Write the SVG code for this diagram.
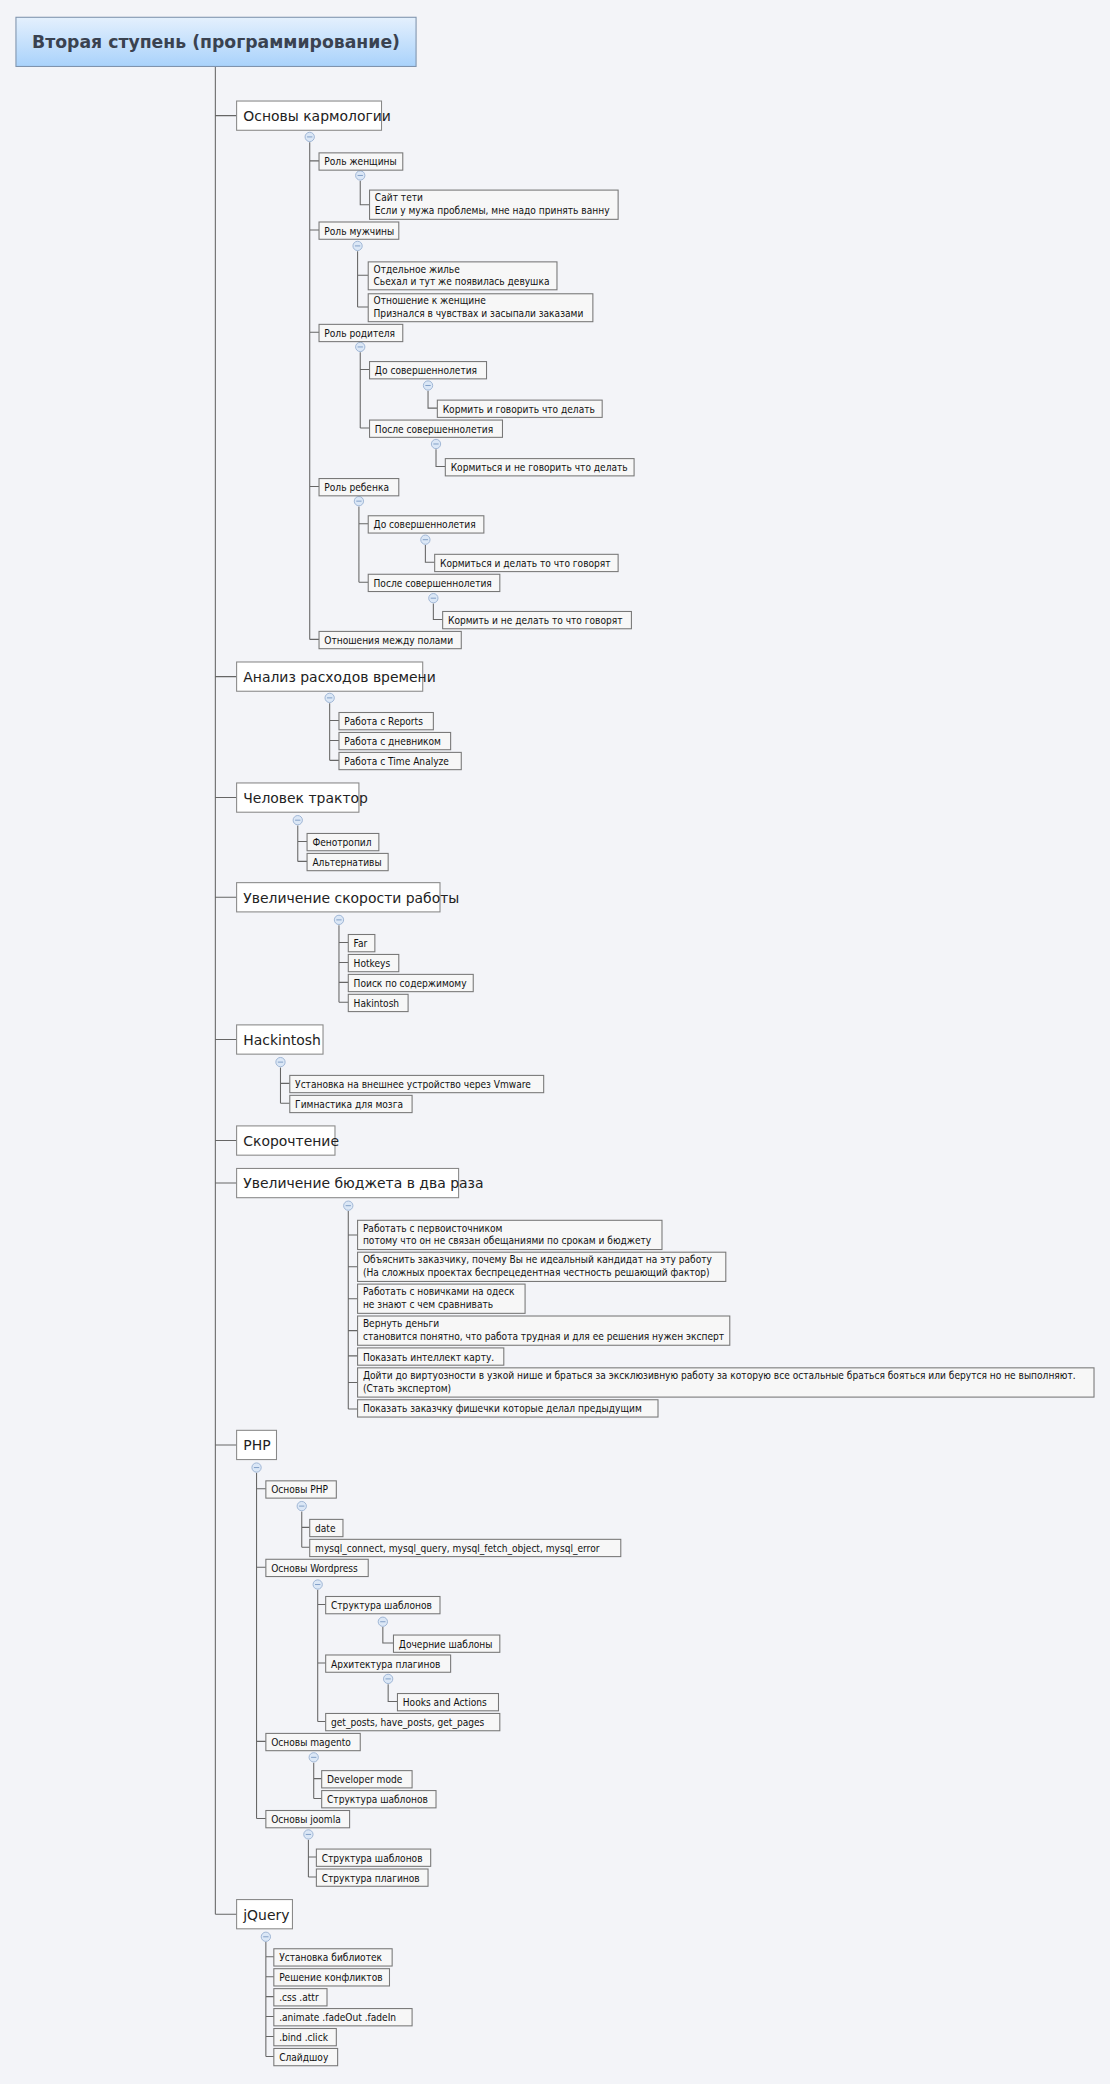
<svg xmlns="http://www.w3.org/2000/svg" width="1110" height="2084" viewBox="0 0 1110 2084">
<defs>
<linearGradient id="rg" x1="0" y1="0" x2="0" y2="1"><stop offset="0" stop-color="#e4f0fd"/><stop offset="1" stop-color="#a9d2fb"/></linearGradient>
<style>
.s rect{fill:#f7f7f7;stroke:#777;stroke-width:0.8}
.s text{font-family:"DejaVu Sans Condensed","DejaVu Sans",sans-serif;font-size:7.6px;fill:#111}
.m rect{fill:#fff;stroke:#888;stroke-width:0.8}
.m text{font-family:"DejaVu Sans","Liberation Sans",sans-serif;font-size:10.5px;fill:#222}
.c{fill:none;stroke:#666;stroke-width:0.8}
.o circle{fill:#dbe7f6;stroke:#9bb3d3;stroke-width:0.7}
.o path{stroke:#7d9bc4;stroke-width:0.7}
</style>
</defs>
<rect width="1110" height="2084" fill="#f3f4f8"/>
<g transform="scale(1.3293)">
<g id="connectors" class="c">
<path d="M162,50V1440M162,87H178M162,509H178M162,600H178M162,675H178M162,782H178M162,858H178M162,890H178M162,1087H178M162,1440H178"/>
<path d="M233,107V481M233,121H240M233,173H240M233,250H240M233,366H240M233,481H240"/>
<path d="M271,136V154H278"/>
<path d="M269,189V231M269,207H277M269,231H277"/>
<path d="M271,265V322M271,278H278M271,322H278M322,294V307H329M328,338V351H335"/>
<path d="M270,381V438M270,394H277M270,438H277M320,410V423H327M326,454V466H333"/>
<path d="M248,529V572M248,542H255M248,557H255M248,572H255"/>
<path d="M224,621V648M224,633H231M224,648H231"/>
<path d="M255,696V754M255,709H262M255,724H262M255,739H262M255,754H262"/>
<path d="M211,803V830M211,815H218M211,830H218"/>
<path d="M262,911V1060M262,929H269M262,953H269M262,977H269M262,1001H269M262,1020H269M262,1040H269M262,1060H269"/>
<path d="M193,1108V1368M193,1120H200M193,1179H200M193,1310H200M193,1368H200"/>
<path d="M227,1137V1164M227,1149H233M227,1164H233"/>
<path d="M239,1196V1295M239,1207H245M239,1251H245M239,1295H245M288,1224V1236H296M292,1267V1280H299"/>
<path d="M236,1326V1353M236,1338H242M236,1353H242"/>
<path d="M232,1384V1412M232,1397H238M232,1412H238"/>
<path d="M200,1461V1547M200,1472H206M200,1487H206M200,1502H206M200,1517H206M200,1532H206M200,1547H206"/>
</g>
<g class="o">
<g><circle cx="233" cy="103" r="3.5"/><path d="M231,103H235"/></g>
<g><circle cx="271" cy="132" r="3.5"/><path d="M269,132H273"/></g>
<g><circle cx="269" cy="185" r="3.5"/><path d="M267,185H271"/></g>
<g><circle cx="271" cy="261" r="3.5"/><path d="M269,261H273"/></g>
<g><circle cx="322" cy="290" r="3.5"/><path d="M320,290H324"/></g>
<g><circle cx="328" cy="334" r="3.5"/><path d="M326,334H330"/></g>
<g><circle cx="270" cy="377" r="3.5"/><path d="M268,377H272"/></g>
<g><circle cx="320" cy="406" r="3.5"/><path d="M318,406H322"/></g>
<g><circle cx="326" cy="450" r="3.5"/><path d="M324,450H328"/></g>
<g><circle cx="248" cy="525" r="3.5"/><path d="M246,525H250"/></g>
<g><circle cx="224" cy="617" r="3.5"/><path d="M222,617H226"/></g>
<g><circle cx="255" cy="692" r="3.5"/><path d="M253,692H257"/></g>
<g><circle cx="211" cy="799" r="3.5"/><path d="M209,799H213"/></g>
<g><circle cx="262" cy="907" r="3.5"/><path d="M260,907H264"/></g>
<g><circle cx="193" cy="1104" r="3.5"/><path d="M191,1104H195"/></g>
<g><circle cx="227" cy="1133" r="3.5"/><path d="M225,1133H229"/></g>
<g><circle cx="239" cy="1192" r="3.5"/><path d="M237,1192H241"/></g>
<g><circle cx="288" cy="1220" r="3.5"/><path d="M286,1220H290"/></g>
<g><circle cx="292" cy="1263" r="3.5"/><path d="M290,1263H294"/></g>
<g><circle cx="236" cy="1322" r="3.5"/><path d="M234,1322H238"/></g>
<g><circle cx="232" cy="1380" r="3.5"/><path d="M230,1380H234"/></g>
<g><circle cx="200" cy="1457" r="3.5"/><path d="M198,1457H202"/></g>
</g>
<g id="root"><rect x="12" y="13" width="301" height="37" fill="url(#rg)" stroke="#7f93ad" stroke-width="0.8"/><text x="162.5" y="36" text-anchor="middle" font-family="DejaVu Sans,sans-serif" font-weight="bold" font-size="13" fill="#3a4250">Вторая ступень (программирование)</text></g>
<g class="m">
<g id="n1"><rect x="178" y="76" width="109" height="22"/><text x="183" y="91">Основы кармологии</text></g>
<g id="n2"><rect x="178" y="498" width="140" height="22"/><text x="183" y="513">Анализ расходов времени</text></g>
<g id="n3"><rect x="178" y="589" width="92" height="22"/><text x="183" y="604">Человек трактор</text></g>
<g id="n4"><rect x="178" y="664" width="153" height="22"/><text x="183" y="679">Увеличение скорости работы</text></g>
<g id="n5"><rect x="178" y="771" width="65" height="22"/><text x="183" y="786">Hackintosh</text></g>
<g id="n6"><rect x="178" y="847" width="74" height="22"/><text x="183" y="862">Скорочтение</text></g>
<g id="n7"><rect x="178" y="879" width="167" height="22"/><text x="183" y="894">Увеличение бюджета в два раза</text></g>
<g id="n8"><rect x="178" y="1076" width="30" height="22"/><text x="183" y="1091">PHP</text></g>
<g id="n9"><rect x="178" y="1429" width="42" height="22"/><text x="183" y="1444">jQuery</text></g>
</g>
<g class="s">
<g id="a1"><rect x="240" y="115" width="63" height="13"/><text x="244" y="124.5">Роль женщины</text></g>
<g id="a11"><rect x="278" y="143" width="187" height="22"/><text x="282" y="151.5">Сайт тети</text><text x="282" y="161">Если у мужа проблемы, мне надо принять ванну</text></g>
<g id="a2"><rect x="240" y="167" width="60" height="13"/><text x="244" y="176.5">Роль мужчины</text></g>
<g id="a21"><rect x="277" y="197" width="142" height="21"/><text x="281" y="205">Отдельное жилье</text><text x="281" y="214.5">Сьехал и тут же появилась девушка</text></g>
<g id="a22"><rect x="277" y="221" width="169" height="21"/><text x="281" y="229">Отношение к женщине</text><text x="281" y="238.5">Признался в чувствах и засыпали заказами</text></g>
<g id="a3"><rect x="240" y="244" width="63" height="13"/><text x="244" y="253.5">Роль родителя</text></g>
<g id="a31"><rect x="278" y="272" width="88" height="13"/><text x="282" y="281.5">До совершеннолетия</text></g>
<g id="a311"><rect x="329" y="301" width="124" height="13"/><text x="333" y="310.5">Кормить и говорить что делать</text></g>
<g id="a32"><rect x="278" y="316" width="100" height="13"/><text x="282" y="325.5">После совершеннолетия</text></g>
<g id="a321"><rect x="335" y="345" width="142" height="13"/><text x="339" y="354.5">Кормиться и не говорить что делать</text></g>
<g id="a4"><rect x="240" y="360" width="60" height="13"/><text x="244" y="369.5">Роль ребенка</text></g>
<g id="a41"><rect x="277" y="388" width="87" height="13"/><text x="281" y="397.5">До совершеннолетия</text></g>
<g id="a411"><rect x="327" y="417" width="138" height="13"/><text x="331" y="426.5">Кормиться и делать то что говорят</text></g>
<g id="a42"><rect x="277" y="432" width="99" height="13"/><text x="281" y="441.5">После совершеннолетия</text></g>
<g id="a421"><rect x="333" y="460" width="142" height="13"/><text x="337" y="469.5">Кормить и не делать то что говорят</text></g>
<g id="a5"><rect x="240" y="475" width="107" height="13"/><text x="244" y="484.5">Отношения между полами</text></g>
<g id="b1"><rect x="255" y="536" width="71" height="13"/><text x="259" y="545.5">Работа с Reports</text></g>
<g id="b2"><rect x="255" y="551" width="84" height="13"/><text x="259" y="560.5">Работа с дневником</text></g>
<g id="b3"><rect x="255" y="566" width="92" height="13"/><text x="259" y="575.5">Работа с Time Analyze</text></g>
<g id="c1"><rect x="231" y="627" width="54" height="13"/><text x="235" y="636.5">Фенотропил</text></g>
<g id="c2"><rect x="231" y="642" width="61" height="13"/><text x="235" y="651.5">Альтернативы</text></g>
<g id="d1"><rect x="262" y="703" width="20" height="13"/><text x="266" y="712.5">Far</text></g>
<g id="d2"><rect x="262" y="718" width="38" height="13"/><text x="266" y="727.5">Hotkeys</text></g>
<g id="d3"><rect x="262" y="733" width="94" height="13"/><text x="266" y="742.5">Поиск по содержимому</text></g>
<g id="d4"><rect x="262" y="748" width="45" height="13"/><text x="266" y="757.5">Hakintosh</text></g>
<g id="e1"><rect x="218" y="809" width="191" height="13"/><text x="222" y="818.5">Установка на внешнее устройство через Vmware</text></g>
<g id="e2"><rect x="218" y="824" width="92" height="13"/><text x="222" y="833.5">Гимнастика для мозга</text></g>
<g id="f1"><rect x="269" y="918" width="229" height="22"/><text x="273" y="926.5">Работать с первоисточником</text><text x="273" y="936">потому что он не связан обещаниями по срокам и бюджету</text></g>
<g id="f2"><rect x="269" y="942" width="277" height="22"/><text x="273" y="950.5">Объяснить заказчику, почему Вы не идеальный кандидат на эту работу</text><text x="273" y="960">(На сложных проектах беспрецедентная честность решающий фактор)</text></g>
<g id="f3"><rect x="269" y="966" width="126" height="22"/><text x="273" y="974.5">Работать с новичками на одеск</text><text x="273" y="984">не знают с чем сравнивать</text></g>
<g id="f4"><rect x="269" y="990" width="280" height="22"/><text x="273" y="998.5">Вернуть деньги</text><text x="273" y="1008">становится понятно, что работа трудная и для ее решения нужен эксперт</text></g>
<g id="f5"><rect x="269" y="1014" width="110" height="13"/><text x="273" y="1023.5">Показать интеллект карту.</text></g>
<g id="f6"><rect x="269" y="1029" width="554" height="22"/><text x="273" y="1037.5">Дойти до виртуозности в узкой нише и браться за эксклюзивную работу за которую все остальные браться бояться или берутся но не выполняют.</text><text x="273" y="1047">(Стать экспертом)</text></g>
<g id="f7"><rect x="269" y="1053" width="226" height="13"/><text x="273" y="1062.5">Показать заказчку фишечки которые делал предыдущим</text></g>
<g id="g1"><rect x="200" y="1114" width="53" height="13"/><text x="204" y="1123.5">Основы PHP</text></g>
<g id="g11"><rect x="233" y="1143" width="25" height="13"/><text x="237" y="1152.5">date</text></g>
<g id="g12"><rect x="233" y="1158" width="234" height="13"/><text x="237" y="1167.5">mysql_connect, mysql_query, mysql_fetch_object, mysql_error</text></g>
<g id="g2"><rect x="200" y="1173" width="77" height="13"/><text x="204" y="1182.5">Основы Wordpress</text></g>
<g id="g21"><rect x="245" y="1201" width="86" height="13"/><text x="249" y="1210.5">Структура шаблонов</text></g>
<g id="g211"><rect x="296" y="1230" width="80" height="13"/><text x="300" y="1239.5">Дочерние шаблоны</text></g>
<g id="g22"><rect x="245" y="1245" width="94" height="13"/><text x="249" y="1254.5">Архитектура плагинов</text></g>
<g id="g221"><rect x="299" y="1274" width="76" height="13"/><text x="303" y="1283.5">Hooks and Actions</text></g>
<g id="g23"><rect x="245" y="1289" width="131" height="13"/><text x="249" y="1298.5">get_posts, have_posts, get_pages</text></g>
<g id="g3"><rect x="200" y="1304" width="71" height="13"/><text x="204" y="1313.5">Основы magento</text></g>
<g id="g31"><rect x="242" y="1332" width="68" height="13"/><text x="246" y="1341.5">Developer mode</text></g>
<g id="g32"><rect x="242" y="1347" width="86" height="13"/><text x="246" y="1356.5">Структура шаблонов</text></g>
<g id="g4"><rect x="200" y="1362" width="63" height="13"/><text x="204" y="1371.5">Основы joomla</text></g>
<g id="g41"><rect x="238" y="1391" width="86" height="13"/><text x="242" y="1400.5">Структура шаблонов</text></g>
<g id="g42"><rect x="238" y="1406" width="84" height="13"/><text x="242" y="1415.5">Структура плагинов</text></g>
<g id="h1"><rect x="206" y="1466" width="89" height="13"/><text x="210" y="1475.5">Установка библиотек</text></g>
<g id="h2"><rect x="206" y="1481" width="87" height="13"/><text x="210" y="1490.5">Решение конфликтов</text></g>
<g id="h3"><rect x="206" y="1496" width="40" height="13"/><text x="210" y="1505.5">.css .attr</text></g>
<g id="h4"><rect x="206" y="1511" width="104" height="13"/><text x="210" y="1520.5">.animate .fadeOut .fadeIn</text></g>
<g id="h5"><rect x="206" y="1526" width="47" height="13"/><text x="210" y="1535.5">.bind .click</text></g>
<g id="h6"><rect x="206" y="1541" width="48" height="13"/><text x="210" y="1550.5">Слайдшоу</text></g>
</g>
</g>
</svg>
